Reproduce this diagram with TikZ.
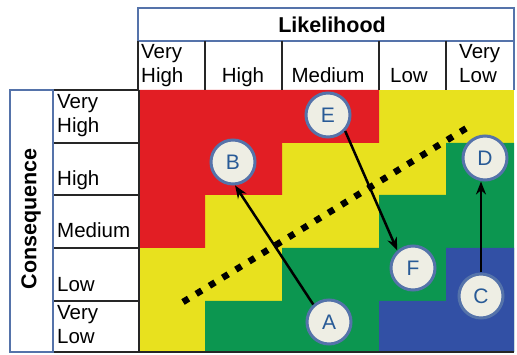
\documentclass[tikz,border=0pt]{standalone}
\usepackage{fontspec}
\setmainfont{Liberation Sans}
\usetikzlibrary{arrows.meta}
\definecolor{rRed}{RGB}{226,30,36}
\definecolor{rYel}{RGB}{232,225,30}
\definecolor{rGrn}{RGB}{12,150,80}
\definecolor{rBlu}{RGB}{50,80,165}
\definecolor{frameBlue}{RGB}{85,115,170}
\definecolor{circFill}{RGB}{238,238,228}
\definecolor{letterBlue}{RGB}{40,90,150}
\tikzset{
  lbl/.style={anchor=base west, inner sep=0pt, align=left, font=\fontsize{20.5}{24.5}\selectfont},
  clbl/.style={anchor=base, inner sep=0pt, align=left, font=\fontsize{20.5}{24.5}\selectfont},
  ttl/.style={inner sep=0pt, font=\bfseries\fontsize{21.5}{24}\selectfont},
  riskpt/.style={circle, minimum size=44pt, inner sep=0pt, fill=circFill, draw=frameBlue, line width=3pt, text=letterBlue, font=\fontsize{21}{24}\selectfont},
  arr/.style={line width=2.5pt, -{Stealth[length=13pt,width=10pt]}},
  gridline/.style={line width=1.6pt, black!85},
  bluebox/.style={line width=2.6pt, draw=frameBlue}
}
\begin{document}
\begin{tikzpicture}[x=1pt,y=-1pt]
\useasboundingbox (0,0) rectangle (517,355);
% coloured matrix
\fill[rYel] (139,90) rectangle (514,352);
\fill[rRed] (139,90) -- (379,90) -- (379,143) -- (282,143) -- (282,195) -- (205,195) -- (205,248) -- (139,248) -- cycle;
\fill[rGrn] (205,301) -- (282,301) -- (282,248) -- (379,248) -- (379,195) -- (446,195) -- (446,143) -- (514,143) -- (514,352) -- (205,352) -- cycle;
\fill[rBlu] (379,301) -- (446,301) -- (446,248) -- (514,248) -- (514,352) -- (379,352) -- cycle;
% header
\draw[bluebox] (138,8) rectangle (514,41);
\node[ttl] (lik) at (332,25) {Likelihood};
\foreach \x in {138,205,282,379,446} \draw[gridline] (\x,41) -- (\x,90);
\draw[bluebox] (514,41) -- (514,90);
\node[lbl] (c1) at (141,83) {Very\\High};
\node[clbl] (c2) at (243,83) {High};
\node[clbl] (c3) at (328,83) {Medium};
\node[clbl] (c4) at (409,83) {Low};
\node[lbl] (c5) at (459,83) {Very\\Low};
% row labels
\foreach \y in {90,143,195,248,301,352} \draw[gridline] (53,\y) -- (139,\y);
\draw[gridline] (139,90) -- (139,352);
\draw[gridline] (139,352) -- (514,352);
\draw[bluebox] (10,90) rectangle (53,352);
\node[ttl, rotate=90] (cons) at (31,219) {Consequence};
\node[lbl] (r1) at (57,133) {Very\\High};
\node[lbl] (r2) at (57,186) {High};
\node[lbl] (r3) at (57,238) {Medium};
\node[lbl] (r4) at (57,292) {Low};
\node[lbl] (r5) at (57,344) {Very\\Low};
% dotted boundary
\coordinate (d1) at (183,302);
\coordinate (d2) at (470,126);
\draw[line width=6.5pt, dash pattern=on 6.5pt off 9pt] (d1) -- (d2);
% risk points
\node[riskpt] (E) at (328,115) {E};
\node[riskpt] (B) at (233,162) {B};
\node[riskpt] (D) at (485,158) {D};
\node[riskpt] (F) at (413,268) {F};
\node[riskpt] (C) at (481,296) {C};
\node[riskpt] (A) at (329,322) {A};
% arrows
\draw[arr] (A.132) -- (B.-85);
\draw[arr] (E.-43) -- (F.132);
\draw[arr] (C.north) -- (C.north |- D.south);
\end{tikzpicture}
\end{document}
